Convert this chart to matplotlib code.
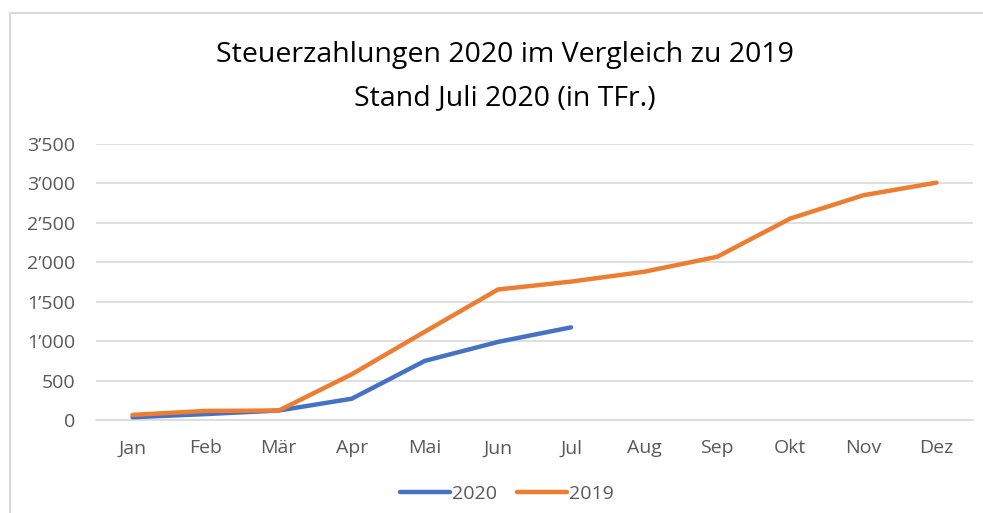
import matplotlib
matplotlib.use("Agg")
import matplotlib.pyplot as plt
from matplotlib.patches import Rectangle
from matplotlib.ticker import FuncFormatter

months = ["Jan", "Feb", "Mär", "Apr", "Mai", "Jun", "Jul", "Aug", "Sep", "Okt", "Nov", "Dez"]
values_2020 = [35, 75, 120, 270, 750, 990, 1175]
values_2019 = [65, 115, 120, 580, 1120, 1655, 1755, 1880, 2070, 2555, 2850, 3010]
yticks = [0, 500, 1000, 1500, 2000, 2500, 3000, 3500]

plt.rcParams['font.family'] = ['Open Sans', 'DejaVu Sans']

fig = plt.figure(figsize=(9.83, 5.13), dpi=100)
W, H = 983, 513
ax = fig.add_axes([96 / W, 1 - 420 / H, (973 - 96) / W, (420 - 144) / H])

# outer frame
fig.patches.append(Rectangle((10 / W, -0.05), 1.2, 1 - 13 / H + 0.05, transform=fig.transFigure,
                             fill=False, edgecolor="#d9d9d9", linewidth=1.5))

x2020 = list(range(len(values_2020)))
x2019 = list(range(len(values_2019)))
ax.plot(x2020, values_2020, color="#4472C4", linewidth=3.2, solid_capstyle="round", label="2020", zorder=3)
ax.plot(x2019, values_2019, color="#ED7D31", linewidth=3.2, solid_capstyle="round", label="2019", zorder=3)

ax.set_xlim(-0.5, 11.5)
ax.set_ylim(0, 3500)
ax.set_yticks(yticks)
ax.yaxis.set_major_formatter(FuncFormatter(lambda v, p: f"{int(v):,}".replace(",", "\u2019")))
ax.set_xticks(range(len(months)))
ax.set_xticklabels(months)
ax.grid(axis="y", color="#d9d9d9", linewidth=1.2)
ax.set_axisbelow(True)
for s in ["top", "right", "left"]:
    ax.spines[s].set_visible(False)
ax.spines["bottom"].set_color("#d9d9d9")
ax.spines["bottom"].set_linewidth(1.2)
ax.tick_params(axis="both", length=0, colors="#595959", labelsize=14)
ax.tick_params(axis="y", pad=15)
ax.tick_params(axis="x", pad=14)

fig.text(505 / W, 1 - 55 / H, "Steuerzahlungen 2020 im Vergleich zu 2019", ha="center", va="center",
         fontsize=20.5, color="#000000")
fig.text(505 / W, 1 - 98 / H, "Stand Juli 2020 (in TFr.)", ha="center", va="center",
         fontsize=20.5, color="#000000")

leg = fig.legend(loc="center", bbox_to_anchor=(507 / W, 1 - 494 / H), ncol=2, frameon=False,
                 fontsize=14, handlelength=2.6, handletextpad=0.1, columnspacing=1.0)
for t in leg.get_texts():
    t.set_color("#595959")

fig.savefig("out.png", dpi=100)
